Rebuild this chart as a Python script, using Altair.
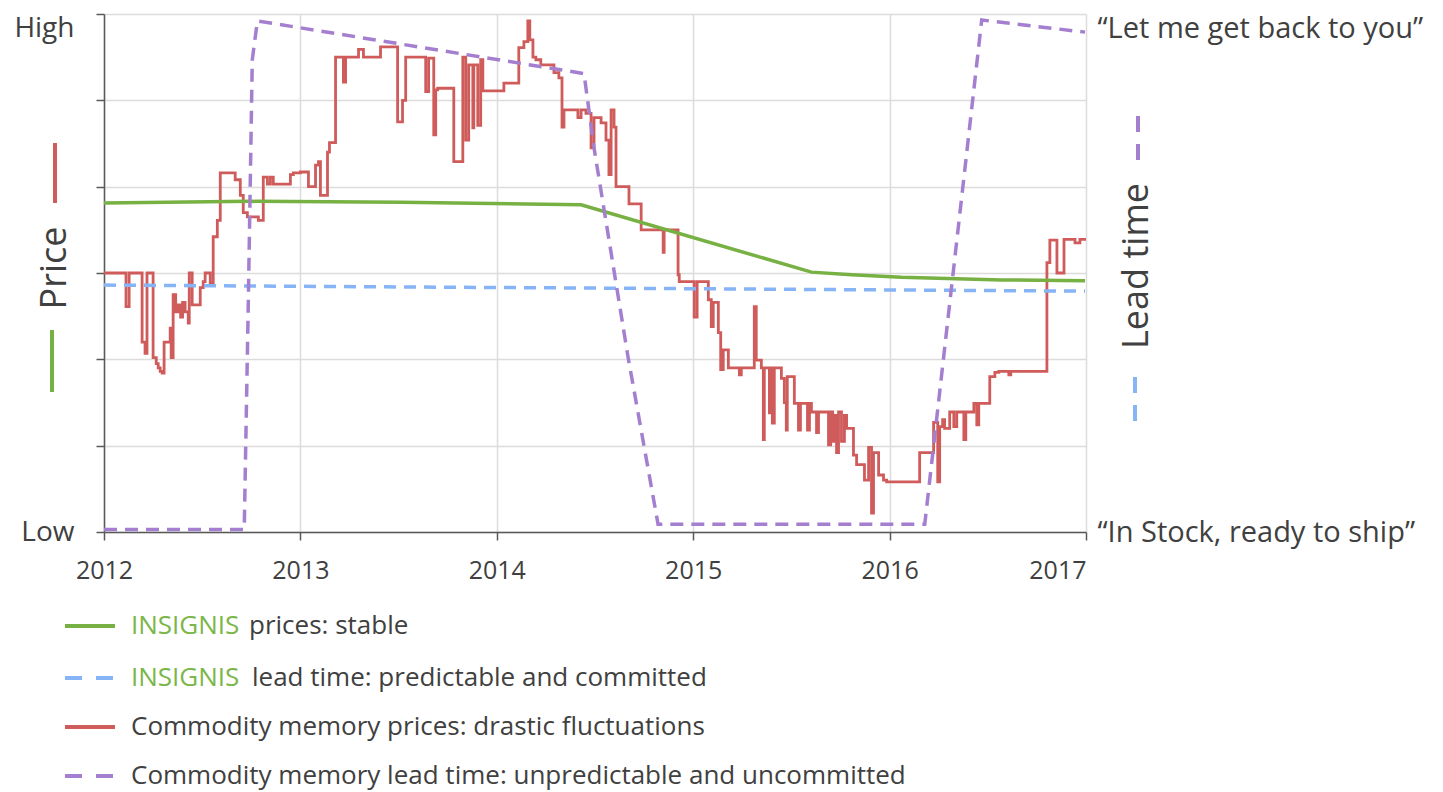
import altair as alt
import pandas as pd

# ---------------- data (decimal year, level 0 = Low ... 6 = High) ----------------
red_year = [2012.000, 2012.112, 2012.128, 2012.194, 2012.209, 2012.219, 2012.250, 2012.266, 2012.276, 2012.286,
            2012.296, 2012.306, 2012.337, 2012.342, 2012.352, 2012.365, 2012.378, 2012.390, 2012.400, 2012.413,
            2012.429, 2012.434, 2012.449, 2012.490, 2012.505, 2012.515, 2012.541, 2012.556, 2012.577, 2012.592,
            2012.668, 2012.694, 2012.709, 2012.730, 2012.786, 2012.811, 2012.832, 2012.847, 2012.862, 2012.949,
            2012.964, 2013.000, 2013.041, 2013.077, 2013.092, 2013.102, 2013.138, 2013.148, 2013.179, 2013.219,
            2013.230, 2013.296, 2013.321, 2013.408, 2013.495, 2013.520, 2013.536, 2013.638, 2013.653, 2013.679,
            2013.689, 2013.699, 2013.781, 2013.827, 2013.842, 2013.857, 2013.878, 2013.883, 2013.903, 2013.918,
            2013.929, 2014.036, 2014.112, 2014.138, 2014.158, 2014.168, 2014.184, 2014.199, 2014.224, 2014.291,
            2014.316, 2014.332, 2014.342, 2014.413, 2014.429, 2014.454, 2014.480, 2014.495, 2014.531, 2014.556,
            2014.571, 2014.582, 2014.597, 2014.607, 2014.673, 2014.735, 2014.847, 2014.852, 2014.923, 2014.929,
            2015.005, 2015.020, 2015.077, 2015.092, 2015.102, 2015.128, 2015.140, 2015.153, 2015.179, 2015.235,
            2015.245, 2015.311, 2015.321, 2015.347, 2015.357, 2015.362, 2015.388, 2015.395, 2015.403, 2015.413,
            2015.449, 2015.464, 2015.474, 2015.479, 2015.515, 2015.536, 2015.546, 2015.582, 2015.592, 2015.602,
            2015.628, 2015.638, 2015.689, 2015.700, 2015.710, 2015.720, 2015.730, 2015.740, 2015.755, 2015.770,
            2015.781, 2015.816, 2015.832, 2015.872, 2015.893, 2015.908, 2015.918, 2015.944, 2015.969, 2015.985,
            2016.153, 2016.224, 2016.245, 2016.255, 2016.270, 2016.280, 2016.306, 2016.327, 2016.342, 2016.378,
            2016.388, 2016.429, 2016.444, 2016.454, 2016.510, 2016.536, 2016.556, 2016.607, 2016.617, 2016.801,
            2016.816, 2016.852, 2016.888, 2016.944, 2016.969, 2017.000]
red_level = [3.00, 2.61, 3.00, 2.20, 2.07, 3.00, 2.02, 1.95, 1.90, 1.86,
             1.84, 2.20, 2.36, 2.02, 2.75, 2.55, 2.63, 2.49, 2.66, 2.55,
             2.42, 3.00, 2.63, 2.83, 2.90, 3.00, 2.88, 3.42, 3.61, 4.16,
             4.08, 3.90, 3.70, 3.65, 3.61, 4.11, 4.03, 4.11, 4.03, 4.14,
             4.16, 4.17, 4.00, 4.25, 4.29, 3.90, 4.40, 4.51, 5.50, 5.21,
             5.50, 5.59, 5.50, 5.62, 4.75, 5.00, 5.50, 5.10, 5.49, 4.60,
             5.12, 5.14, 4.29, 5.50, 4.54, 5.41, 4.68, 5.41, 4.71, 5.47,
             5.11, 5.20, 5.61, 5.68, 5.92, 5.70, 5.50, 5.47, 5.41, 5.32,
             5.26, 4.69, 4.89, 4.80, 4.89, 4.85, 4.45, 4.80, 4.74, 4.54,
             4.14, 4.89, 4.69, 4.00, 3.80, 3.50, 3.24, 3.50, 2.98, 2.90,
             2.49, 2.90, 2.69, 2.38, 2.66, 2.31, 1.88, 2.11, 1.90, 1.82,
             1.90, 2.61, 1.99, 1.90, 1.07, 1.90, 1.38, 1.90, 1.26, 1.90,
             1.78, 1.50, 1.18, 1.80, 1.49, 1.18, 1.49, 1.18, 1.49, 1.39,
             1.15, 1.39, 1.01, 1.39, 1.05, 1.35, 0.92, 1.39, 1.05, 1.35,
             1.20, 0.89, 0.78, 0.60, 0.98, 0.22, 0.92, 0.66, 0.60, 0.58,
             0.92, 1.27, 0.58, 1.22, 1.30, 1.20, 1.39, 1.22, 1.39, 1.07,
             1.39, 1.49, 1.24, 1.49, 1.80, 1.85, 1.86, 1.82, 1.86, 3.12,
             3.38, 3.00, 3.39, 3.35, 3.39, 3.39]

green_year = [2012.000, 2012.745, 2013.510, 2014.429, 2015.602, 2015.806, 2016.061, 2016.571, 2016.995]
green_level = [3.81, 3.83, 3.82, 3.79, 3.01, 2.98, 2.95, 2.92, 2.91]

blue_year = [2012.000, 2016.995]
blue_level = [2.86, 2.79]

purple_year = [2012.000, 2012.714, 2012.735, 2012.755, 2012.781, 2014.444, 2014.495, 2014.668,
               2014.821, 2016.179, 2016.469, 2016.995]
purple_level = [0.03, 0.03, 2.69, 5.47, 5.92, 5.31, 4.45, 2.03, 0.09, 0.09, 5.93, 5.79]

x_ticks = [2012, 2012.5, 2013, 2013.5, 2014, 2014.5, 2015, 2015.5, 2016, 2016.5, 2017]
y_ticks = [0, 1, 2, 3, 4, 5, 6]

legend_brand = "INSIGNIS"
legend_texts = ["prices: stable",
                "lead time: predictable and committed",
                "Commodity memory prices: drastic fluctuations",
                "Commodity memory lead time: unpredictable and uncommitted"]

RED = "#cf5b5b"
GREEN = "#77b043"
BLUE = "#86b4f7"
PURPLE = "#a47fcf"
BRAND = "#7ab648"
TXT = "#404040"
FONT = "Open Sans"

red_df = pd.DataFrame({"year": red_year, "level": red_level})
green_df = pd.DataFrame({"year": green_year, "level": green_level})
blue_df = pd.DataFrame({"year": blue_year, "level": blue_level})
purple_df = pd.DataFrame({"year": purple_year, "level": purple_level})
one = pd.DataFrame({"k": [0]})

x_axis = alt.Axis(values=x_ticks, format="d",
                  labelExpr="datum.value % 1 == 0 ? datum.label : ''",
                  grid=True, gridColor="#dcdcdc", gridWidth=1.5,
                  domainColor="#595959", domainWidth=1.5,
                  tickColor="#595959", tickWidth=1.5, tickSize=8,
                  labelFont=FONT, labelFontSize=25, labelColor=TXT, labelPadding=18,
                  labelFlush=False, labelOverlap=False,
                  labelAlign={"condition": {"test": "datum.value >= 2017", "value": "right"}, "value": "center"},
                  title=None)
x_enc = alt.X("year:Q", scale=alt.Scale(domain=[2012, 2017], nice=False, zero=False), axis=x_axis)

y_left_axis = alt.Axis(values=y_ticks,
                       labelExpr="datum.value == 6 ? 'High' : (datum.value == 0 ? 'Low' : '')",
                       grid=True, gridColor="#dcdcdc", gridWidth=1.5,
                       domainColor="#595959", domainWidth=1.5,
                       tickColor="#595959", tickWidth=1.5, tickSize=8,
                       labelFont=FONT, labelFontSize=28, labelColor=TXT, labelPadding=22,
                       labelOverlap=False, labelFlush=False,
                       labelBaseline={"condition": {"test": "datum.value == 6", "value": "top"}, "value": "middle"},
                       title=None)
y_right_axis = alt.Axis(orient="right", values=[0, 6],
                        labelExpr="datum.value == 6 ? '\u201cLet me get back to you\u201d' : '\u201cIn Stock, ready to ship\u201d'",
                        grid=False, domain=False, ticks=False,
                        labelFont=FONT, labelFontSize=29, labelColor=TXT, labelPadding=11,
                        labelOverlap=False, labelFlush=False, labelLimit=0,
                        labelBaseline={"condition": {"test": "datum.value == 6", "value": "top"}, "value": "middle"},
                        title=None)

yl = alt.Y("level:Q", scale=alt.Scale(domain=[0, 6], nice=False), axis=y_left_axis)
yr = alt.Y("level:Q", scale=alt.Scale(domain=[0, 6], nice=False), axis=y_right_axis)

red = alt.Chart(red_df).mark_line(color=RED, strokeWidth=2.8, interpolate="step-after").encode(x=x_enc, y=yl)
green = alt.Chart(green_df).mark_line(color=GREEN, strokeWidth=3.5).encode(x=x_enc, y=yl)
price = alt.layer(red, green)

blue = alt.Chart(blue_df).mark_line(color=BLUE, strokeWidth=3.5, strokeDash=[12, 8]).encode(x=x_enc, y=yr)
purple = alt.Chart(purple_df).mark_line(color=PURPLE, strokeWidth=3.5, strokeDash=[13, 8]).encode(x=x_enc, y=yr)
lead = alt.layer(blue, purple)


def label(text, x, y, size, color=TXT, angle=0, align="left"):
    return alt.Chart(one).mark_text(text=text, font=FONT, fontSize=size, color=color, angle=angle,
                                    align=align, baseline="middle").encode(x=alt.value(x), y=alt.value(y))


def seg(x, x2, y, y2, color, dash=None, width=4):
    kw = dict(color=color, strokeWidth=width)
    if dash:
        kw["strokeDash"] = dash
    return alt.Chart(one).mark_rule(**kw).encode(x=alt.value(x), x2=alt.value(x2), y=alt.value(y), y2=alt.value(y2))


deco = [
    # axis titles with line keys
    label("Price", -49, 254, 36, angle=270, align="center"),
    seg(-49, -49, 129, 189, RED),
    seg(-52, -52, 316, 378, GREEN),
    label("Lead time", 1033, 252, 36, angle=270, align="center"),
    seg(1034, 1034, 102, 146, PURPLE, dash=[16, 12]),
    seg(1031, 1031, 363, 408, BLUE, dash=[16, 12]),
    # legend
    seg(-39, 11, 612, 612, GREEN),
    label(legend_brand, 27, 612, 26, color=BRAND),
    label(legend_texts[0], 145, 612, 26),
    seg(-39, 9, 664, 664, BLUE, dash=[17, 14]),
    label(legend_brand, 27, 664, 26, color=BRAND),
    label(legend_texts[1], 148, 664, 26),
    seg(-39, 11, 713, 713, RED),
    label(legend_texts[2], 27, 713, 26),
    seg(-39, 9, 762, 762, PURPLE, dash=[17, 14]),
    label(legend_texts[3], 27, 762, 26),
]

chart = alt.layer(price, lead, *deco).resolve_scale(y="independent").properties(
    width=982, height=518,
    padding={"left": 96, "top": 6, "right": 345, "bottom": 262},
    autosize=alt.AutoSizeParams(type="none"),
    background="white",
).configure_view(stroke=None)

chart.save("out.html", embed_options={"renderer": "svg", "actions": False})
